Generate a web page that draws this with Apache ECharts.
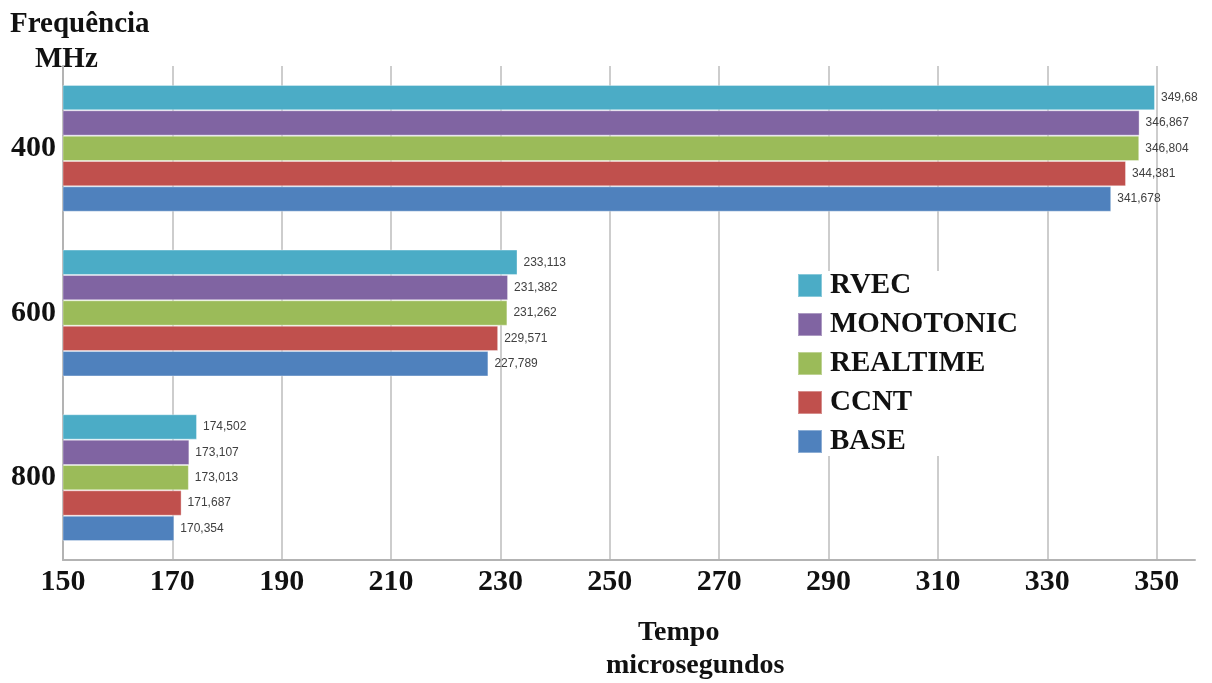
<!DOCTYPE html>
<html>
<head>
<meta charset="utf-8">
<script src="https://cdn.jsdelivr.net/npm/echarts@6/dist/echarts.min.js"></script>
<style>
  html, body { margin: 0; padding: 0; background: #fff; }
  #chart { width: 1212px; height: 683px; }
</style>
</head>
<body>
<div id="chart"></div>
<script>
// Frequency groups (top to bottom)
const categories = ["400", "600", "800"];

// Series, in legend order
const seriesNames = ["RVEC", "MONOTONIC", "REALTIME", "CCNT", "BASE"];
const seriesColors = ["#4BACC6", "#8064A2", "#9BBB59", "#C0504D", "#4F81BD"];

const rvec = [349.68, 233.113, 174.502];
const monotonic = [346.867, 231.382, 173.107];
const realtime = [346.804, 231.262, 173.013];
const ccnt = [344.381, 229.571, 171.687];
const base = [341.678, 227.789, 170.354];

const seriesValues = [rvec, monotonic, realtime, ccnt, base];

const serif = "'Liberation Serif', 'DejaVu Serif', serif";

const chart = echarts.init(document.getElementById("chart"));

const option = {
  animation: false,
  grid: { left: 63, right: 17, top: 66, bottom: 123, containLabel: false },
  legend: {
    orient: "vertical",
    left: 797,
    top: 271,
    itemWidth: 24,
    itemHeight: 23,
    itemGap: 10,
    backgroundColor: "#fff",
    padding: [0, 4, 0, 0],
    data: seriesNames,
    icon: "rect",
    textStyle: {
      fontFamily: serif, fontWeight: "bold", fontSize: 29,
      color: "#111", padding: [0, 0, 0, 3],
    },
  },
  xAxis: {
    type: "value",
    min: 150,
    max: 357,
    interval: 20,
    axisLine: { show: true, lineStyle: { color: "#b3b3b3", width: 2 } },
    axisTick: { show: false },
    axisLabel: {
      showMaxLabel: false,
      margin: 7,
      fontFamily: serif,
      fontWeight: "bold",
      fontSize: 30,
      color: "#111",
    },
    splitLine: {
      show: true,
      showMinLine: false,
      showMaxLine: false,
      lineStyle: { color: "#bdbdbd", width: 1.5 },
    },
  },
  yAxis: {
    type: "category",
    inverse: true,
    data: categories,
    axisLine: { show: true, lineStyle: { color: "#b3b3b3", width: 2 } },
    axisTick: { show: false },
    axisLabel: { margin: 7, fontFamily: serif, fontWeight: "bold", fontSize: 30, color: "#111" },
  },
  graphic: [
    { type: "text", left: 10, top: 10, style: { text: "Frequência", font: "bold 29px " + serif, fill: "#111" } },
    { type: "text", left: 35, top: 45, style: { text: "MHz", font: "bold 29px " + serif, fill: "#111" } },
    { type: "text", left: 638, top: 619, style: { text: "Tempo", font: "bold 28px " + serif, fill: "#111" } },
    { type: "text", left: 606, top: 652, style: { text: "microsegundos", font: "bold 28px " + serif, fill: "#111" } },
  ],
  series: seriesNames.map((name, i) => ({
    name,
    type: "bar",
    data: seriesValues[i],
    barGap: "0%",
    barCategoryGap: "23%",
    itemStyle: { color: seriesColors[i], borderColor: "rgba(255,255,255,0.35)", borderWidth: 1 },
    label: {
      show: true,
      position: "right",
      distance: 6,
      fontFamily: "'Liberation Sans', 'DejaVu Sans', sans-serif",
      fontSize: 12,
      color: "#404040",
      formatter: (p) => String(p.value).replace(".", ","),
    },
  })),
};

chart.setOption(option);
</script>
</body>
</html>
